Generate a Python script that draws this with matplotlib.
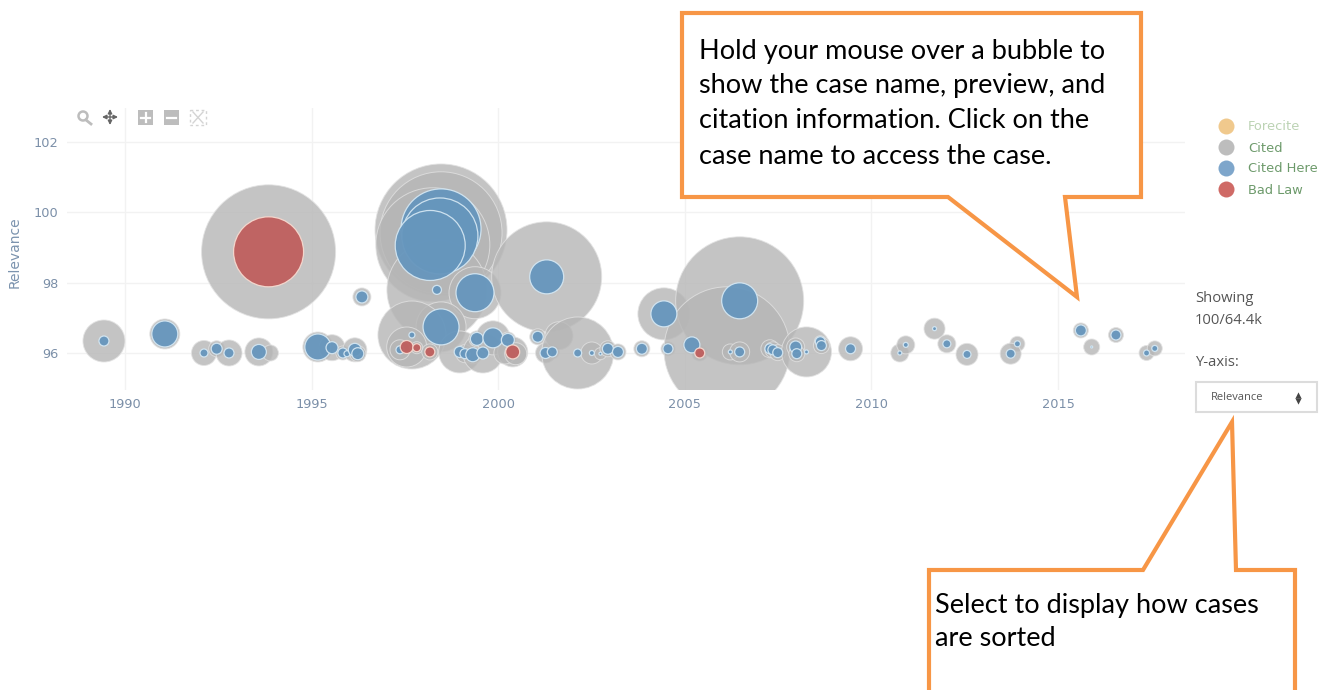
import numpy as np
import matplotlib
matplotlib.use('Agg')
import matplotlib.pyplot as plt
from matplotlib.patches import Polygon, Rectangle, Circle

W, H = 1325, 690
DPI = 100

# Cited bubbles: year, relevance, radius (px)
cited_year = [1989.44, 1991.07, 1992.12, 1992.46, 1992.79, 1993.59, 1993.90, 1993.85, 1996.35, 1995.17,
              1995.55, 1995.84, 1995.95, 1996.16, 1996.24, 1998.47, 1998.47, 1998.25, 1998.36, 1999.38,
              2001.30, 1998.47, 1997.69, 1997.55, 1997.82, 1998.17, 1997.37, 1998.97, 1999.11, 1999.32,
              1999.59, 1999.43, 1999.86, 2000.26, 2000.39, 2000.18, 2000.47, 2001.06, 2001.27, 2001.45,
              2001.63, 2002.13, 2002.51, 2002.74, 2002.94, 2003.21, 2003.85, 2004.44, 2004.55, 2005.19,
              2005.40, 2006.47, 2006.13, 2006.22, 2006.47, 2007.28, 2007.36, 2007.49, 2008.26, 2007.97,
              2008.00, 2008.63, 2008.66, 2009.44, 2010.76, 2010.92, 2011.69, 2012.02, 2012.56, 2013.91,
              2013.73, 2015.61, 2015.90, 2016.55, 2017.37, 2017.59]
cited_rel = [96.35, 96.55, 96.01, 96.13, 96.01, 96.04, 96.01, 98.88, 97.60, 96.18,
             96.16, 96.01, 95.99, 96.10, 95.99, 99.50, 99.42, 99.08, 97.80, 97.72,
             98.17, 96.75, 96.52, 96.18, 96.16, 96.04, 96.10, 96.04, 95.99, 95.96,
             96.01, 96.41, 96.44, 96.38, 96.04, 96.01, 95.99, 96.47, 96.01, 96.04,
             96.50, 96.01, 96.01, 95.99, 96.13, 96.04, 96.13, 97.12, 96.13, 96.24,
             96.01, 97.49, 96.10, 96.04, 96.04, 96.13, 96.10, 96.02, 96.04, 96.18,
             95.99, 96.33, 96.22, 96.13, 96.01, 96.24, 96.70, 96.27, 95.97, 96.27,
             95.99, 96.65, 96.18, 96.52, 96.01, 96.14]
cited_size = [21, 15, 12.5, 8, 13, 14, 8, 67, 9, 15,
              13, 7, 3, 12, 8, 66, 61, 57, 50, 26,
              55, 25, 34, 20, 6, 8, 10, 21, 9, 9,
              20, 8, 17, 8, 15, 11, 11, 8, 10, 7,
              14, 36, 11, 6, 8, 8, 8, 26, 7, 9,
              8, 64, 63, 8, 10, 9, 8, 8, 25, 9,
              8, 6, 8, 12, 9, 9, 10.5, 9, 11, 7.5,
              10.5, 7.5, 8, 7.5, 7.5, 7.5]

# Cited here bubbles
here_year = [1989.44, 1991.07, 1992.12, 1992.46, 1992.79, 1993.59, 1996.35, 1995.17, 1995.55, 1995.84,
             1995.95, 1996.16, 1996.24, 1998.47, 1998.44, 1998.18, 1998.36, 1999.38, 2001.30, 1998.47,
             1997.69, 1997.37, 1998.97, 1999.11, 1999.32, 1999.59, 1999.43, 1999.86, 2000.26, 2001.06,
             2001.27, 2001.45, 2002.13, 2002.51, 2002.74, 2002.94, 2003.21, 2003.85, 2004.44, 2004.55,
             2005.19, 2006.47, 2006.22, 2006.47, 2007.28, 2007.36, 2007.49, 2008.26, 2007.97, 2008.00,
             2008.63, 2008.66, 2009.44, 2010.76, 2010.92, 2011.69, 2012.02, 2012.56, 2013.91, 2013.73,
             2015.61, 2015.90, 2016.55, 2017.37, 2017.59]
here_rel = [96.35, 96.55, 96.01, 96.13, 96.01, 96.04, 97.60, 96.18, 96.16, 96.01,
            95.99, 96.10, 95.99, 99.53, 99.33, 99.06, 97.80, 97.72, 98.17, 96.75,
            96.52, 96.10, 96.04, 95.99, 95.96, 96.01, 96.41, 96.44, 96.38, 96.47,
            96.01, 96.04, 96.01, 96.01, 95.99, 96.13, 96.04, 96.13, 97.12, 96.13,
            96.24, 97.49, 96.04, 96.04, 96.13, 96.10, 96.02, 96.04, 96.18, 95.99,
            96.33, 96.22, 96.13, 96.01, 96.24, 96.70, 96.27, 95.97, 96.27, 95.99,
            96.65, 96.18, 96.52, 96.01, 96.14]
here_size = [5, 13, 4, 5.5, 5, 7.5, 6, 13, 6, 5,
             3, 6.5, 6, 40, 38, 35, 4.5, 19, 17, 18,
             3, 4, 5.5, 5, 7, 6, 6.5, 10, 6.5, 5.5,
             5.5, 5, 4, 2.5, 1.5, 5.5, 5.5, 5.5, 13, 5,
             8, 18, 2, 5, 5, 5, 5, 2, 6, 5,
             5, 5, 5, 2, 2.5, 2, 4, 4, 3, 4.5,
             5.5, 1, 5, 3, 3]

# Bad law bubbles
bad_year = [1993.85, 1997.55, 1997.82, 1998.17, 2000.39, 2005.40]
bad_rel = [98.88, 96.18, 96.16, 96.04, 96.04, 96.01]
bad_size = [35, 6.5, 4, 5, 7, 5]

x_ticks = [1990, 1995, 2000, 2005, 2010, 2015]
y_ticks = [96, 98, 100, 102]
legend_names = ['Forecite', 'Cited', 'Cited Here', 'Bad Law']
legend_colors = ['#f0c98d', '#bdbdbd', '#7ea6cb', '#cf6a66']
legend_text_colors = ['#bcd3b4', '#6d9a6b', '#6d9a6b', '#6d9a6b']


def area(radius):
    # px radius to scatter area in points^2
    return (2 * np.array(radius) * 72 / DPI) ** 2


fig = plt.figure(figsize=(W / DPI, H / DPI), dpi=DPI, facecolor='white')
left, right, top, bottom = 67, 1185, 108, 390
ax = fig.add_axes([left / W, 1 - bottom / H, (right - left) / W, (bottom - top) / H])
ax.set_xlim(1988.45, 2018.40)
ax.set_ylim(94.96, 102.96)

ax.scatter(cited_year, cited_rel, s=area(cited_size), c='#b6b6b6', alpha=0.8,
           edgecolors='#e2e2e2', linewidths=0.7, zorder=3)
ax.scatter(here_year, here_rel, s=area(here_size), c='#6696bd', alpha=0.95,
           edgecolors='#d3e6f2', linewidths=0.9, zorder=4)
ax.scatter(bad_year, bad_rel, s=area(bad_size), c='#bf5f5e', alpha=0.95,
           edgecolors='#f6d9cf', linewidths=0.9, zorder=5)

for spine in ax.spines.values():
    spine.set_visible(False)
ax.set_xticks(x_ticks)
ax.set_yticks(y_ticks)
ax.grid(True, color='#f2f2f2', linewidth=1)
ax.set_axisbelow(True)
ax.tick_params(length=0, labelsize=9.3, labelcolor='#7b8fa8', pad=6)
ax.set_ylabel('Relevance', color='#7b93ae', fontsize=10)
ax.yaxis.set_label_coords((22 - left) / (right - left), (bottom - 252) / (bottom - top))

# overlay in image pixels for the page furniture
ov = fig.add_axes([0, 0, 1, 1], zorder=10)
ov.set_xlim(0, W)
ov.set_ylim(H, 0)
ov.axis('off')
ov.patch.set_alpha(0)

# modebar
grey = '#bdbdbd'
ov.add_patch(Circle((83, 116), 4.5, fill=False, ec=grey, lw=1.8))
ov.plot([86, 91], [120, 124], color=grey, lw=2)
ov.annotate('', xy=(110, 109), xytext=(110, 125), arrowprops=dict(arrowstyle='<|-|>', color='#666666', lw=1, mutation_scale=6, shrinkA=0, shrinkB=0))
ov.annotate('', xy=(102, 117), xytext=(118, 117), arrowprops=dict(arrowstyle='<|-|>', color='#666666', lw=1, mutation_scale=6, shrinkA=0, shrinkB=0))
ov.add_patch(Rectangle((138, 110), 15, 15, fc=grey, ec='none'))
ov.plot([141, 150], [117.5, 117.5], color='white', lw=1.6)
ov.plot([145.5, 145.5], [113, 122], color='white', lw=1.6)
ov.add_patch(Rectangle((164, 110), 15, 15, fc=grey, ec='none'))
ov.plot([167, 176], [117.5, 117.5], color='white', lw=1.6)
ov.add_patch(Rectangle((190, 110), 16, 15, fill=False, ec='#d4d4d4', lw=1, ls=(0, (2, 2))))
ov.plot([193, 203], [112, 123], color='#d4d4d4', lw=1)
ov.plot([193, 203], [123, 112], color='#d4d4d4', lw=1)

# legend
for i, name in enumerate(legend_names):
    y = 126 + i * 21
    ov.scatter([1226], [y], s=area(8), c=legend_colors[i], linewidths=0)
    ov.text(1248, y + 1, name, color=legend_text_colors[i], fontsize=9.4, va='center', ha='left')

# side controls
side = dict(color='#555555', fontsize=10.6, va='center', ha='left', family='Open Sans')
ov.text(1195, 298, 'Showing', **side)
ov.text(1195, 320, '100/64.4k', **side)
ov.text(1195, 362, 'Y-axis:', **side)
ov.add_patch(Rectangle((1196, 382), 121, 30, fc='white', ec='#dcdcdc', lw=1.5))
ov.text(1211, 397.5, 'Relevance', color='#555555', fontsize=8, va='center', ha='left', family='Open Sans')
ov.scatter([1298], [394.5], marker='^', s=20, c='#444444', linewidths=0)
ov.scatter([1298], [400.5], marker='v', s=20, c='#444444', linewidths=0)

# callouts
orange = '#f79646'
box1 = [(682, 13), (1141, 13), (1141, 197), (1065, 197), (1077, 297), (948, 197), (682, 197)]
box2 = [(929, 570), (1143, 570), (1232, 422), (1236, 570), (1295, 570), (1295, 700), (929, 700)]
ov.add_patch(Polygon(box1, closed=True, fc='white', ec=orange, lw=3, joinstyle='miter'))
ov.add_patch(Polygon(box2, closed=True, fc='white', ec=orange, lw=3, joinstyle='miter'))

note = dict(color='black', fontsize=19.5, va='center', ha='left', family='Lato')
for y, line in zip([51, 86, 121, 156],
                   ['Hold your mouse over a bubble to',
                    'show the case name, preview, and',
                    'citation information. Click on the',
                    'case name to access the case.']):
    ov.text(699, y, line, **note)
for y, line in zip([605, 639], ['Select to display how cases', 'are sorted']):
    ov.text(935, y, line, **note)

fig.savefig('out.png', dpi=DPI)
